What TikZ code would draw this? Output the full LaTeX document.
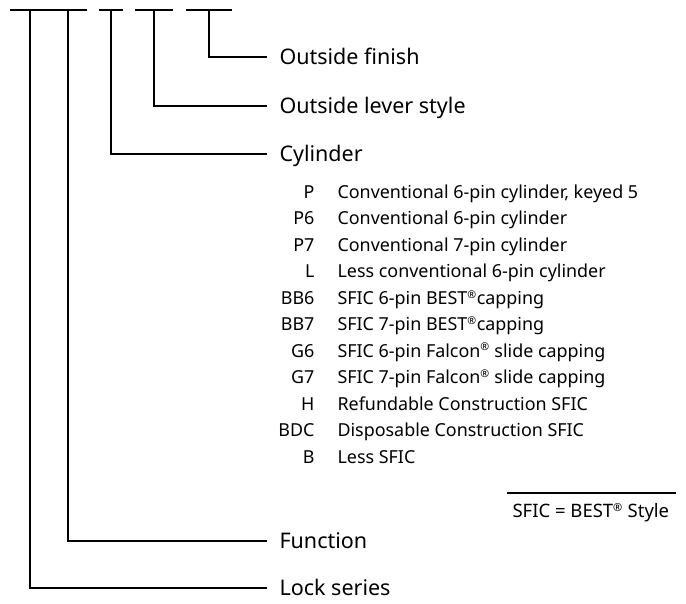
\documentclass[tikz,border=0pt]{standalone}
\usepackage{fontspec}
\setmainfont{Noto Sans}
\newcommand{\regmark}{\textsuperscript{\scalebox{0.85}{®}}}
\begin{document}
\begin{tikzpicture}[x=1pt,y=-1pt,line width=1.1pt,
  lbl/.style={anchor=west,inner xsep=12pt,inner ysep=0pt,text height=15pt,text depth=0pt,font=\fontsize{21.5}{24}\selectfont},
  code/.style={anchor=east,inner sep=0pt,text height=12pt,text depth=0pt,font=\fontsize{17.9}{20}\selectfont},
  desc/.style={anchor=west,inner sep=0pt,text height=12pt,text depth=0pt,font=\fontsize{17.9}{20}\selectfont},
  note/.style={anchor=west,inner sep=0pt,text height=13pt,text depth=0pt,font=\fontsize{18.5}{20}\selectfont}]
\useasboundingbox (0,0) rectangle (686,603);
% top bars
\coordinate (b1l) at (10,10); \coordinate (b1r) at (87,10);
\coordinate (b2l) at (99,10); \coordinate (b2r) at (123,10);
\coordinate (b3l) at (135,10); \coordinate (b3r) at (173,10);
\coordinate (b4l) at (186,10); \coordinate (b4r) at (232,10);
\draw (b1l) -- (b1r);
\draw (b2l) -- (b2r);
\draw (b3l) -- (b3r);
\draw (b4l) -- (b4r);
\coordinate (tls) at (30,10);
\coordinate (tfn) at (68,10);
\coordinate (tcy) at (111,10);
\coordinate (tlv) at (154,10);
\coordinate (tfi) at (209,10);
% labels
\node[lbl] (fi) at (267,57) {Outside finish};
\node[lbl] (lv) at (267,106) {Outside lever style};
\node[lbl] (cy) at (267,154) {Cylinder};
\node[lbl] (fn) at (267,541) {Function};
\node[lbl] (ls) at (267,588) {Lock series};
\draw (tfi) |- (fi.west);
\draw (tlv) |- (lv.west);
\draw (tcy) |- (cy.west);
\draw (tfn) |- (fn.west);
\draw (tls) |- (ls.west);
% list
\node[code] (c1) at (315,192.5) {P};   \node[desc] (d1) at (337,192.5) {Conventional 6-pin cylinder, keyed 5};
\node[code] (c2) at (315,218.9) {P6};  \node[desc] (d2) at (337,218.9) {Conventional 6-pin cylinder};
\node[code] (c3) at (315,245.4) {P7};  \node[desc] (d3) at (337,245.4) {Conventional 7-pin cylinder};
\node[code] (c4) at (315,271.8) {L};   \node[desc] (d4) at (337,271.8) {Less conventional 6-pin cylinder};
\node[code] (c5) at (315,298.3) {BB6}; \node[desc] (d5) at (337,298.3) {SFIC 6-pin BEST\regmark{}capping};
\node[code] (c6) at (315,324.7) {BB7}; \node[desc] (d6) at (337,324.7) {SFIC 7-pin BEST\regmark{}capping};
\node[code] (c7) at (315,351.2) {G6};  \node[desc] (d7) at (337,351.2) {SFIC 6-pin Falcon\regmark{} slide capping};
\node[code] (c8) at (315,377.6) {G7};  \node[desc] (d8) at (337,377.6) {SFIC 7-pin Falcon\regmark{} slide capping};
\node[code] (c9) at (315,404.1) {H};   \node[desc] (d9) at (337,404.1) {Refundable Construction SFIC};
\node[code] (c10) at (315,430.5) {BDC}; \node[desc] (d10) at (337,430.5) {Disposable Construction SFIC};
\node[code] (c11) at (315,457) {B};    \node[desc] (d11) at (337,457) {Less SFIC};
% note
\coordinate (sepl) at (507,493); \coordinate (sepr) at (676,493);
\draw (sepl) -- (sepr);
\node[note] (nt) at (512,511) {SFIC = BEST\regmark{} Style};
\end{tikzpicture}
\end{document}
